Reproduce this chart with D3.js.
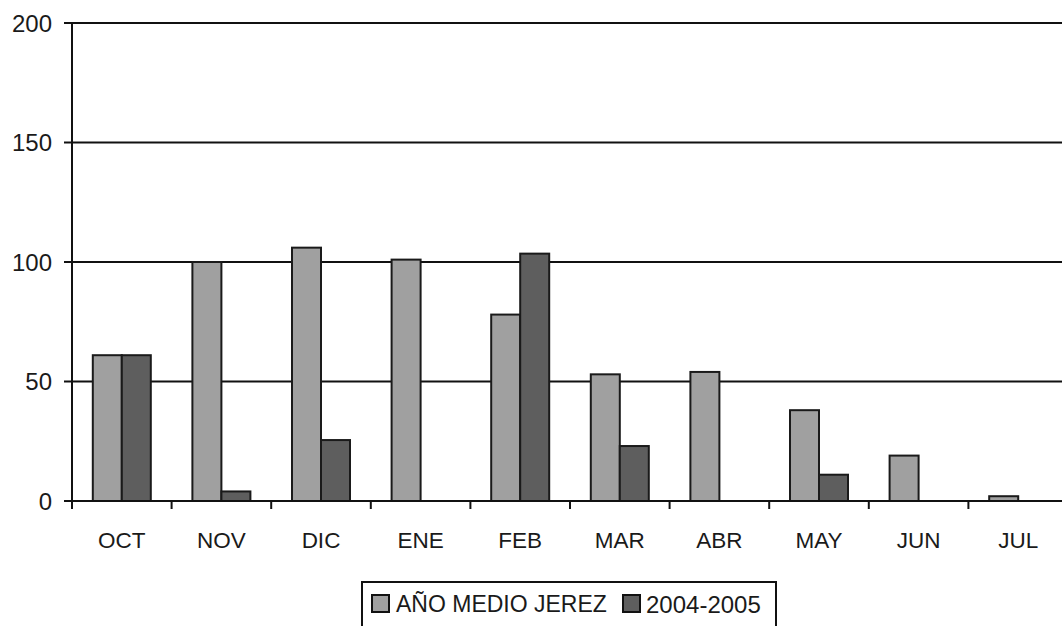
<!DOCTYPE html>
<html>
<head>
<meta charset="utf-8">
<script src="https://cdn.jsdelivr.net/npm/d3@7"></script>
<style>
  html, body { margin: 0; padding: 0; background: #fff; }
  svg { display: block; font-family: "Liberation Sans", Arial, sans-serif; }
  .y-label { font-size: 24px; fill: #1a1a1a; }
  .x-label { font-size: 22.5px; fill: #1a1a1a; }
  .legend-label { font-size: 23px; fill: #1a1a1a; }
</style>
</head>
<body>
<svg id="chart" width="1062" height="626"></svg>
<script>
const months = ['OCT', 'NOV', 'DIC', 'ENE', 'FEB', 'MAR', 'ABR', 'MAY', 'JUN', 'JUL'];
const seriesNames = ['AÑO MEDIO JEREZ', '2004-2005'];
const medioJerez = [61, 100, 106, 101, 78, 53, 54, 38, 19, 2];
const season0405 = [61, 4, 25.5, 0, 103.5, 23, 0, 11, 0, 0];
const yTicks = [0, 50, 100, 150, 200];
const colors = ['#a0a0a0', '#5e5e5e'];

const width = 1062, height = 626;
const plotLeft = 72, plotTop = 23, plotBottom = 501;
const plotRight = 1068;   // last category runs slightly past the picture edge
const barW = 29;

const svg = d3.select('#chart');

const x0 = d3.scaleBand().domain(months).range([plotLeft, plotRight]);
const x1 = d3.scaleBand().domain(seriesNames)
  .range([x0.bandwidth() / 2 - barW, x0.bandwidth() / 2 + barW]);
const y = d3.scaleLinear().domain([0, 200]).range([plotBottom, plotTop]);

// gridlines + left ticks
const grid = svg.append('g');
grid.selectAll('line.grid')
  .data(yTicks)
  .enter().append('line')
  .attr('x1', plotLeft - 8).attr('x2', width)
  .attr('y1', d => y(d)).attr('y2', d => y(d))
  .attr('stroke', '#111').attr('stroke-width', 2);

grid.selectAll('text')
  .data(yTicks)
  .enter().append('text')
  .attr('class', 'y-label')
  .attr('x', 52).attr('y', d => y(d))
  .attr('dy', '0.36em')
  .attr('text-anchor', 'end')
  .text(d => d);

// bars
const rows = months.map((m, i) => ({ month: m, values: [medioJerez[i], season0405[i]] }));

const groups = svg.append('g').selectAll('g')
  .data(rows)
  .enter().append('g')
  .attr('transform', d => `translate(${x0(d.month)},0)`);

groups.selectAll('rect')
  .data(d => d.values.map((v, k) => ({ key: seriesNames[k], value: v, k })).filter(d => d.value > 0))
  .enter().append('rect')
  .attr('x', d => x1(d.key))
  .attr('width', x1.bandwidth())
  .attr('y', d => y(d.value))
  .attr('height', d => plotBottom - y(d.value))
  .attr('fill', d => colors[d.k])
  .attr('stroke', '#1a1a1a').attr('stroke-width', 2);

// axes lines
svg.append('line')
  .attr('x1', plotLeft).attr('x2', plotLeft)
  .attr('y1', plotTop).attr('y2', plotBottom + 8)
  .attr('stroke', '#111').attr('stroke-width', 2);
svg.append('line')
  .attr('x1', plotLeft - 8).attr('x2', width)
  .attr('y1', plotBottom).attr('y2', plotBottom)
  .attr('stroke', '#111').attr('stroke-width', 2);

// category ticks at band boundaries
svg.append('g').selectAll('line')
  .data(months.slice(1))
  .enter().append('line')
  .attr('x1', d => x0(d)).attr('x2', d => x0(d))
  .attr('y1', plotBottom).attr('y2', plotBottom + 8)
  .attr('stroke', '#111').attr('stroke-width', 2);

svg.append('g').selectAll('text')
  .data(months)
  .enter().append('text')
  .attr('class', 'x-label')
  .attr('x', d => x0(d) + x0.bandwidth() / 2)
  .attr('y', 540)
  .attr('dy', '0.36em')
  .attr('text-anchor', 'middle')
  .text(d => d);

// legend
const legend = svg.append('g');
legend.append('rect')
  .attr('x', 362).attr('y', 582)
  .attr('width', 414).attr('height', 60)
  .attr('fill', '#fff').attr('stroke', '#111').attr('stroke-width', 2);

const legendX = [372, 623];
const items = legend.selectAll('g.item')
  .data(seriesNames)
  .enter().append('g')
  .attr('transform', (d, i) => `translate(${legendX[i]},595)`);
items.append('rect')
  .attr('width', 17).attr('height', 17)
  .attr('fill', (d, i) => colors[i])
  .attr('stroke', '#111').attr('stroke-width', 2);
items.append('text')
  .attr('class', 'legend-label')
  .attr('x', (d, i) => i === 0 ? 24 : 23)
  .attr('y', 9)
  .attr('dy', '0.36em')
  .style('font-size', (d, i) => i === 0 ? '23px' : '24px')
  .text(d => d);
</script>
</body>
</html>
